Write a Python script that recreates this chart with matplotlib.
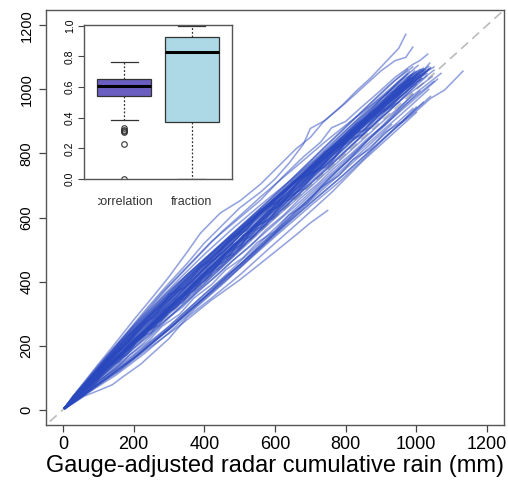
import matplotlib
matplotlib.use('Agg')
import matplotlib.pyplot as plt
from matplotlib.transforms import Bbox, TransformedBbox

plt.rcParams['font.family'] = ['Liberation Sans', 'DejaVu Sans']

# cumulative rain runs: (radar, gauge) in mm
core_lines = [
    [(5, 6), (60, 72), (140, 160), (230, 258), (320, 352), (410, 455), (500, 550), (600, 662), (690, 760), (790, 862), (880, 950), (960, 1030), (1010, 1062)],
    [(6, 5), (80, 90), (170, 182), (260, 285), (350, 382), (450, 485), (550, 600), (650, 702), (750, 808), (850, 915), (950, 1010), (1020, 1058)],
    [(4, 5), (90, 98), (180, 190), (280, 298), (370, 392), (470, 500), (560, 595), (660, 700), (770, 815), (860, 910), (950, 1000), (1035, 1072)],
    [(5, 4), (70, 76), (150, 162), (240, 252), (330, 345), (430, 452), (520, 548), (620, 648), (730, 760), (830, 868), (930, 968), (1040, 1065)],
    [(7, 6), (100, 104), (190, 196), (290, 298), (380, 392), (480, 492), (580, 594), (680, 700), (780, 800), (880, 905), (980, 1002), (1050, 1060)],
    [(5, 5), (85, 88), (175, 178), (270, 272), (360, 365), (460, 460), (560, 562), (660, 665), (760, 765), (860, 870), (960, 970), (1045, 1040)],
    [(6, 5), (95, 92), (190, 182), (290, 280), (390, 375), (480, 465), (590, 570), (690, 668), (790, 768), (890, 870), (990, 965), (1060, 1032)],
    [(5, 4), (110, 88), (210, 170), (310, 262), (410, 360), (510, 460), (610, 560), (700, 652), (800, 752), (900, 850), (990, 940)],
    [(6, 5), (90, 72), (190, 155), (290, 245), (380, 330), (480, 425), (580, 525), (680, 625), (780, 720), (870, 810), (960, 900), (1020, 960)],
    [(5, 6), (70, 92), (150, 195), (240, 300), (320, 390), (410, 480), (500, 570), (590, 660), (680, 755), (780, 860), (870, 955), (940, 1028), (990, 1070)],
    [(4, 5), (60, 68), (140, 155), (220, 240), (310, 340), (400, 438), (490, 536), (590, 645), (690, 752), (790, 860), (890, 968), (975, 1048)],
    [(6, 6), (120, 130), (210, 225), (300, 322), (390, 418), (490, 520), (590, 630), (690, 735), (790, 842), (890, 950), (985, 1045)],
    [(5, 5), (75, 82), (160, 172), (250, 262), (340, 358), (440, 462), (540, 568), (640, 672), (740, 778), (840, 884), (940, 985), (1025, 1062)],
    [(5, 6), (95, 102), (185, 192), (275, 285), (375, 388), (475, 490), (570, 590), (670, 690), (770, 792), (870, 895), (970, 1000), (1040, 1068)],
    [(6, 5), (60, 62), (150, 152), (240, 245), (340, 342), (440, 448), (540, 545), (640, 648), (740, 750), (840, 850), (940, 952), (1030, 1042)],
    [(5, 5), (105, 100), (200, 195), (300, 298), (400, 395), (500, 495), (600, 598), (700, 695), (800, 795), (900, 895), (1000, 990), (1070, 1050)],
    [(4, 6), (85, 108), (170, 215), (260, 318), (350, 420), (440, 510), (540, 610), (640, 712), (740, 820), (830, 915), (920, 1010), (975, 1062)],
    [(6, 6), (65, 72), (145, 158), (235, 252), (335, 355), (425, 452), (525, 556), (625, 665), (725, 770), (825, 875), (925, 980), (1000, 1055)],
    [(5, 4), (115, 122), (205, 215), (295, 308), (395, 410), (495, 515), (595, 620), (695, 722), (795, 828), (895, 930), (995, 1035), (1050, 1070)],
    [(6, 6), (80, 84), (170, 174), (260, 268), (350, 358), (450, 460), (550, 562), (650, 665), (750, 768), (850, 870), (950, 972), (1015, 1035)],
    [(5, 4), (90, 76), (180, 150), (280, 240), (370, 330), (470, 430), (570, 535), (670, 640), (770, 742), (870, 838), (960, 925), (1035, 1000)],
    [(5, 7), (55, 72), (120, 158), (200, 258), (290, 360), (380, 450), (470, 535), (560, 622), (660, 715), (760, 808), (860, 905), (960, 1005), (1030, 1050)],
    [(6, 4), (100, 78), (200, 160), (300, 250), (400, 350), (500, 452), (600, 556), (700, 662), (800, 772), (900, 882), (990, 985)],
    [(5, 5), (90, 112), (180, 222), (270, 322), (370, 430), (460, 520), (560, 618), (660, 718), (760, 822), (860, 928), (950, 1022), (1005, 1075)],
    [(4, 5), (70, 70), (160, 160), (250, 255), (350, 352), (450, 452), (550, 555), (650, 655), (750, 755), (850, 858), (950, 960)],
    [(5, 6), (110, 118), (200, 212), (290, 305), (390, 410), (490, 515), (590, 620), (690, 725), (790, 828), (890, 935), (980, 1030)],
]

dense_lines = [
    [(5, 6), (50, 62), (110, 140), (170, 210), (230, 280), (290, 345), (350, 410), (410, 470), (470, 528), (530, 590), (590, 648), (650, 705), (710, 765), (770, 822), (830, 880), (890, 940), (950, 995), (1005, 1050)],
    [(6, 5), (60, 72), (120, 145), (180, 215), (240, 285), (300, 350), (360, 415), (420, 478), (480, 540), (540, 600), (600, 658), (660, 718), (720, 778), (780, 835), (840, 895), (900, 955), (960, 1012), (1015, 1062)],
    [(5, 5), (55, 60), (115, 130), (175, 200), (235, 265), (295, 330), (355, 395), (415, 455), (475, 515), (535, 580), (595, 640), (655, 698), (715, 760), (775, 818), (835, 880), (895, 938), (955, 998), (1010, 1046)],
    [(4, 5), (65, 80), (125, 150), (185, 220), (245, 290), (305, 358), (365, 425), (425, 490), (485, 552), (545, 612), (605, 670), (665, 728), (725, 786), (785, 842), (845, 898), (905, 955), (965, 1012), (1020, 1064)],
    [(6, 6), (45, 55), (105, 125), (165, 195), (225, 262), (285, 328), (345, 392), (405, 455), (465, 518), (525, 578), (585, 640), (645, 700), (705, 758), (765, 815), (825, 872), (885, 928), (945, 985), (995, 1036)],
    [(5, 4), (70, 70), (130, 135), (190, 200), (250, 265), (310, 330), (370, 392), (430, 455), (490, 515), (550, 578), (610, 640), (670, 700), (730, 762), (790, 825), (850, 886), (910, 945), (970, 1005), (1030, 1058)],
    [(5, 5), (75, 92), (135, 162), (195, 232), (255, 300), (315, 365), (375, 428), (435, 490), (495, 550), (555, 610), (615, 668), (675, 725), (735, 782), (795, 838), (855, 895), (915, 950), (975, 1005), (1025, 1050)],
    [(6, 6), (40, 48), (100, 118), (160, 185), (220, 252), (280, 318), (340, 385), (400, 450), (460, 512), (520, 575), (580, 636), (640, 698), (700, 758), (760, 818), (820, 876), (880, 935), (940, 992), (985, 1038)],
    [(5, 5), (80, 85), (140, 150), (200, 215), (260, 280), (320, 345), (380, 408), (440, 470), (500, 530), (560, 592), (620, 655), (680, 716), (740, 778), (800, 840), (860, 900), (920, 960), (980, 1018), (1035, 1065)],
    [(4, 5), (50, 55), (110, 122), (170, 190), (230, 255), (290, 320), (350, 385), (410, 448), (470, 512), (530, 575), (590, 638), (650, 700), (710, 762), (770, 822), (830, 882), (890, 942), (950, 1000), (1000, 1046)],
    [(6, 5), (90, 100), (150, 172), (210, 242), (270, 310), (330, 378), (390, 445), (450, 505), (510, 565), (570, 622), (630, 680), (690, 738), (750, 795), (810, 852), (870, 910), (930, 968), (990, 1025)],
    [(5, 6), (60, 76), (120, 152), (180, 225), (240, 295), (300, 362), (360, 425), (420, 488), (480, 548), (540, 605), (600, 660), (660, 715), (720, 768), (780, 820), (840, 874), (900, 928), (960, 982), (1015, 1035)],
    [(5, 5), (85, 80), (145, 140), (205, 205), (265, 270), (325, 335), (385, 400), (445, 462), (505, 525), (565, 588), (625, 650), (685, 712), (745, 775), (805, 838), (865, 898), (925, 958), (985, 1015)],
    [(6, 6), (55, 70), (115, 145), (175, 218), (235, 288), (295, 355), (355, 420), (415, 480), (475, 540), (535, 598), (595, 655), (655, 712), (715, 768), (775, 825), (835, 882), (895, 938), (955, 995)],
]

jagged_lines = [
    [(5, 5), (40, 50), (75, 70), (120, 130), (160, 150), (210, 225), (250, 240), (300, 320), (340, 335), (390, 420), (430, 440), (480, 515),
     (530, 540), (580, 620), (620, 640), (670, 720), (720, 745), (770, 815), (820, 850), (870, 915), (920, 945), (970, 1010), (1010, 1040)],
    [(6, 4), (50, 58), (90, 80), (140, 150), (180, 170), (230, 245), (270, 262), (320, 345), (370, 370), (410, 440), (460, 462), (510, 545),
     (560, 570), (600, 640), (650, 660), (700, 740), (750, 760), (800, 840), (850, 860), (900, 930), (950, 960), (1000, 1015)],
    [(5, 6), (30, 45), (70, 70), (110, 125), (150, 150), (190, 210), (230, 230), (270, 290), (320, 318), (360, 380), (400, 400), (450, 470),
     (490, 490), (540, 570), (580, 590), (630, 660), (680, 690), (720, 750), (770, 790), (820, 860), (870, 880), (920, 940), (970, 990), (1000, 1030)],
    [(5, 6), (45, 62), (85, 95), (130, 160), (175, 195), (215, 262), (260, 290), (300, 360), (345, 382), (390, 450), (430, 470), (475, 540),
     (520, 560), (560, 625), (610, 650), (650, 712), (700, 740), (740, 805), (790, 835), (830, 892), (880, 922), (920, 985), (960, 1010), (995, 1058)],
    [(6, 5), (60, 48), (100, 90), (150, 128), (190, 172), (240, 212), (280, 260), (330, 298), (370, 348), (420, 390), (460, 436), (510, 475),
     (550, 522), (600, 558), (640, 608), (690, 644), (730, 694), (780, 730), (820, 780), (870, 815), (910, 865), (960, 900), (1000, 945)],
    [(5, 5), (35, 42), (80, 82), (115, 132), (165, 172), (200, 222), (250, 258), (285, 310), (335, 345), (370, 398), (420, 430), (455, 485),
     (505, 515), (540, 568), (590, 600), (625, 652), (675, 688), (710, 742), (760, 772), (795, 826), (845, 858), (880, 912), (930, 945), (965, 1000), (1010, 1030)],
    [(4, 5), (50, 66), (95, 108), (140, 168), (185, 210), (230, 268), (275, 308), (320, 362), (365, 400), (410, 455), (455, 492), (500, 545),
     (545, 582), (590, 635), (635, 672), (680, 726), (725, 765), (770, 820), (815, 860), (860, 915), (905, 955), (950, 1010), (990, 1048)],
    [(6, 5), (55, 50), (100, 95), (150, 138), (195, 186), (245, 232), (290, 280), (340, 322), (385, 374), (435, 418), (480, 465), (530, 510),
     (575, 562), (625, 608), (670, 658), (720, 704), (765, 752), (815, 798), (860, 845), (910, 890), (955, 940), (1005, 985), (1050, 1025)],
    [(5, 7), (40, 58), (80, 102), (120, 150), (160, 198), (200, 245), (240, 288), (285, 335), (330, 385), (375, 430), (420, 472), (465, 520),
     (510, 568), (560, 615), (610, 668), (660, 715), (710, 768), (760, 818), (810, 872), (860, 920), (905, 975), (945, 1020), (980, 1055)],
    [(6, 4), (60, 44), (110, 84), (160, 122), (210, 168), (260, 215), (310, 262), (360, 315), (410, 362), (460, 415), (510, 462), (560, 518),
     (610, 566), (660, 622), (710, 672), (760, 728), (810, 780), (860, 838), (910, 886), (960, 942), (1010, 995)],
]

upper_lines = [
    [(5, 6), (40, 58), (90, 128), (150, 210), (200, 280), (260, 360), (300, 415), (350, 490), (389, 551), (445, 614), (502, 653), (560, 705),
     (610, 760), (660, 815), (700, 850), (738, 900), (790, 950), (830, 995), (870, 1035), (900, 1070), (930, 1105), (950, 1128), (970, 1172)],
    [(5, 5), (60, 82), (120, 162), (180, 240), (240, 320), (300, 395), (350, 455), (400, 520), (450, 575), (500, 630), (560, 680), (600, 720),
     (640, 770), (681, 830), (700, 878), (740, 902), (800, 958), (850, 1008), (900, 1058), (940, 1090), (970, 1100), (990, 1132)],
    [(5, 5), (70, 92), (140, 185), (210, 275), (280, 365), (350, 445), (420, 525), (490, 590), (560, 655), (620, 725), (681, 790), (729, 835),
     (760, 880), (800, 900), (840, 940), (890, 988), (940, 1038), (990, 1078), (1010, 1090), (1032, 1110)],
    [(5, 5), (80, 102), (160, 205), (240, 305), (320, 398), (400, 485), (480, 565), (560, 640), (640, 712), (720, 785), (800, 860), (880, 938),
     (950, 1008), (1000, 1048), (1020, 1060), (1038, 1082)],
    [(5, 6), (50, 70), (100, 138), (150, 200), (200, 262), (250, 322), (300, 385), (350, 442), (400, 500), (450, 556), (500, 605), (560, 665),
     (620, 722), (680, 778), (740, 835), (800, 888), (860, 940), (920, 990), (980, 1040), (1020, 1066)],
]

lower_lines = [
    [(6, 4), (100, 88), (200, 172), (300, 260), (400, 360), (500, 452), (600, 550), (700, 645), (800, 738), (880, 818), (950, 888), (1000, 932),
     (1040, 972), (1080, 998), (1110, 1032), (1132, 1057)],
    [(5, 4), (80, 66), (160, 122), (240, 190), (330, 262), (420, 342), (500, 405), (580, 475), (660, 546), (700, 583), (749, 622)],
    [(6, 3), (60, 42), (110, 64), (140, 78), (170, 103), (220, 142), (260, 182), (300, 222), (352, 289), (420, 348), (500, 420), (580, 500),
     (660, 578), (760, 678), (850, 778), (940, 868), (1000, 928)],
    [(5, 4), (100, 80), (200, 160), (300, 250), (400, 345), (500, 442), (600, 540), (700, 636), (786, 715), (850, 782), (920, 858), (980, 918), (1040, 978)],
    [(5, 5), (70, 52), (150, 108), (230, 175), (300, 240), (380, 322), (460, 400), (540, 485), (620, 572), (700, 658), (780, 740), (860, 820), (930, 890)],
]

short_lines = [
    [(5, 5), (80, 95), (160, 190), (240, 280), (320, 365), (400, 445), (480, 530), (560, 615), (620, 662)],
    [(6, 5), (100, 115), (200, 232), (300, 340), (400, 440), (480, 520)],
    [(5, 6), (90, 100), (180, 190), (270, 290), (360, 385), (450, 480), (540, 575), (630, 670), (720, 760), (800, 850), (860, 905)],
    [(4, 5), (70, 88), (140, 170), (210, 255), (280, 330), (330, 385)],
    [(6, 6), (120, 105), (230, 210), (340, 330), (450, 445), (560, 565), (660, 678), (760, 790), (840, 870)],
]

ticks_main = [0, 200, 400, 600, 800, 1000, 1200]

# inset boxplot summary
box_names = ['correlation', 'fraction']
box_q1 = [0.543, 0.369]
box_med = [0.608, 0.826]
box_q3 = [0.652, 0.926]
box_lo = [0.382, 0.0]
box_hi = [0.763, 1.0]
corr_outliers = [0.333, 0.322, 0.315, 0.304, 0.228, 0.0]
frac_outliers = []
box_colors = ['#6A5FC1', '#ADD8E6']

fig = plt.figure(figsize=(5.08, 4.86), dpi=100)
ax = fig.add_axes([0.0906, 0.1255, 0.9014, 0.8539])

line_col = '#2A48BE'
for group in [core_lines, dense_lines, jagged_lines, upper_lines, lower_lines, short_lines]:
    for run in group:
        xs = [p[0] for p in run]
        ys = [p[1] for p in run]
        ax.plot(xs, ys, color=line_col, alpha=0.5, lw=1.15, zorder=2)

ax.plot([-100, 1400], [-100, 1400], color='#bbbbbb', lw=1.2, dashes=(5.5, 3.5), zorder=1)

ax.set_xlim(-48, 1248)
ax.set_ylim(-48, 1248)
ax.set_xticks(ticks_main)
ax.set_yticks(ticks_main)
ax.tick_params(axis='x', labelsize=13, length=5, width=0.9, color='#444444', pad=3)
ax.tick_params(axis='y', labelsize=10.5, length=5, width=0.9, color='#444444', pad=4)
plt.setp(ax.get_yticklabels(), rotation=90, va='center')
for s in ax.spines.values():
    s.set_color('#555555')
    s.set_linewidth(1.0)
ax.set_xlabel('Gauge-adjusted radar cumulative rain (mm)', fontsize=17, labelpad=1)

axi = fig.add_axes([0.16535, 0.63169, 0.29134, 0.31687])
stats = []
for i in range(2):
    stats.append(dict(med=box_med[i], q1=box_q1[i], q3=box_q3[i], whislo=box_lo[i], whishi=box_hi[i],
                      fliers=[corr_outliers, frac_outliers][i], label=box_names[i]))
bp = axi.bxp(stats, positions=[1, 2], widths=0.8, patch_artist=True, showfliers=True,
             boxprops=dict(edgecolor='#333333', linewidth=0.9),
             medianprops=dict(color='black', linewidth=2.2),
             whiskerprops=dict(color='#333333', linewidth=0.9, linestyle=(0, (1.5, 1.5))),
             capprops=dict(color='#333333', linewidth=0.9),
             flierprops=dict(marker='o', markersize=4, markerfacecolor='none', markeredgecolor='#333333', markeredgewidth=0.8))
for patch, c in zip(bp['boxes'], box_colors):
    patch.set_facecolor(c)
for cap in bp['caps']:
    x0, x1 = cap.get_xdata()
    xm = (x0 + x1) / 2
    cap.set_xdata([xm - 0.2, xm + 0.2])

axi.set_xlim(0.4, 2.6)
axi.set_ylim(0, 1.005)
axi.set_yticks([0.0, 0.2, 0.4, 0.6, 0.8, 1.0])
axi.set_yticklabels(['0.0', '0.2', '0.4', '0.6', '0.8', '1.0'])
axi.tick_params(axis='y', labelsize=7.5, length=4, width=0.8, color='#444444', pad=2.5)
plt.setp(axi.get_yticklabels(), rotation=90, va='center')
axi.set_xticks([])
for s in axi.spines.values():
    s.set_color('#555555')
    s.set_linewidth(1.0)

clip = TransformedBbox(Bbox([[98 / 508, 0], [1, 1]]), fig.transFigure)
for i, name in enumerate(box_names):
    t = axi.text(i + 1, -0.15, name, transform=axi.get_xaxis_transform(), ha='center', va='center',
                 fontsize=9, color='#333333', clip_on=True)
    t.set_clip_path(None)
    t.set_clip_box(clip)

fig.savefig('out.png', dpi=100)
